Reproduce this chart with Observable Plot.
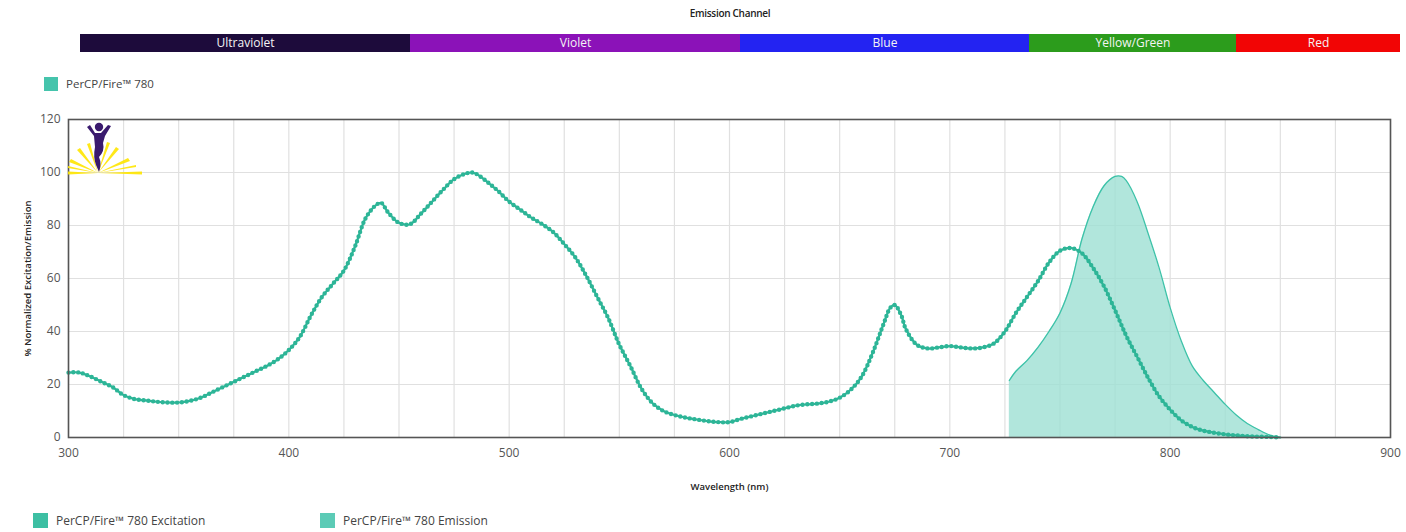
<!DOCTYPE html>
<html>
<head>
<meta charset="utf-8">
<script src="https://cdn.jsdelivr.net/npm/d3@7"></script>
<script src="https://cdn.jsdelivr.net/npm/@observablehq/plot@0.6"></script>
<style>
  body { margin: 0; background: #fff; font-family: "Open Sans", "Noto Sans", sans-serif; }
  #page { position: relative; width: 1406px; height: 532px; overflow: hidden; }
  .abs { position: absolute; }
  .title { left: 0; width: 1460px; top: 6px; text-align: center; font-size: 10px; font-weight: 600; color: #222; letter-spacing: -0.3px; }
  .leg { font-size: 11.5px; color: #444; display: flex; align-items: center; white-space: nowrap; }
  .sw { width: 14px; height: 14px; margin-right: 8px; }
</style>
</head>
<body>
<div id="page">
  <div class="abs title">Emission Channel</div>
  <div class="abs" id="bar" style="left:0; top:34px;"></div>
  <div class="abs leg" style="left:44px; top:76px;"><div class="sw" style="background:#45c4ac"></div>PerCP/Fire™ 780</div>
  <div class="abs" id="chart" style="left:0; top:100px;"></div>
  <svg class="abs" style="left:68px; top:121px;" width="80" height="58" viewBox="0 0 80 58">
    <g fill="#ffe600" opacity="0.9">
      <polygon points="30,52 0,50.5 0,53.5"/><polygon points="30,52 74,50.5 74,53.5"/>
      <polygon points="30,52 3,38 1,41"/><polygon points="30,52 60,37 62,40"/>
      <polygon points="30,52 12,27 9,29"/><polygon points="30,52 48,26 51,28"/>
      <polygon points="30,52 22,22 19,23"/><polygon points="30,52 39,21 42,22"/>
      <polygon points="30,52 0,45 0,47"/><polygon points="30,52 68,44 68,46"/>
    </g>
    <circle cx="31" cy="6" r="4.2" fill="#3a1a6e"/>
    <path d="M19 6 L26 15 L27 26 Q25 36 28 44 L31 51 Q34 43 31 36 Q37 30 35 22 L37 15 L43 5 L40 4 L33 12 L27 12 L22 4 Z" fill="#3a1a6e"/>
  </svg>
  <div class="abs leg" style="left:33px; top:512px; font-size:12px;"><div class="sw" style="background:#3dbfa3; width:15px; height:15px;"></div>PerCP/Fire™ 780 Excitation</div>
  <div class="abs leg" style="left:320px; top:512px; font-size:12px;"><div class="sw" style="background:#5ccbb6; width:15px; height:15px;"></div>PerCP/Fire™ 780 Emission</div>
</div>
<script>
// Emission channel bar
const channelNames = ["Ultraviolet", "Violet", "Blue", "Yellow/Green", "Red"];
const channelColors = ["#1d0b3b", "#8b12b8", "#2323f2", "#2c9c1c", "#f20505"];
const channelStart = [0, 330, 660, 949, 1156];
const channelEnd = [330, 660, 949, 1156, 1320];

// Excitation spectrum (wavelength nm, % normalized)
const exWavelength = [300,305,310,315,320,325,330,335,340,345,350,355,360,365,370,375,380,385,390,395,
  400,405,410,415,420,425,430,435,440,442,445,450,455,460,465,470,475,480,483,485,490,495,500,505,510,515,520,525,530,535,
  540,545,550,555,560,565,570,575,580,585,590,595,600,605,610,615,620,625,630,635,640,645,650,655,660,665,670,673,675,678,
  680,685,690,695,700,705,710,715,720,725,730,735,740,745,750,755,760,765,770,775,780,785,790,795,800,805,810,815,820,825,
  830,835,840,845,850];
const exValue = [24.5,24.5,23,21,19,16,14.5,14,13.5,13.2,13.2,13.8,15,17,19,21,23,25,27,29.5,
  33,38,46,53,58,63,72,83,88,88.5,85,81,80.5,84.5,89,93.5,97.5,99.5,100,99.5,96.5,93,89,86,83,80.5,77.5,73,68,61,
  53,45,35,27,18.5,13,10,8.5,7.5,6.8,6.2,5.8,5.8,7,8,9,10,11,12,12.5,12.8,13.5,15,18,23,32,43,49,50,46,
  41,35,33.6,34,34.5,34,33.6,34,35.5,40,47,53,59,66,70.5,71.5,69.5,64,57,48,38.5,30.5,22.5,15.5,10.5,6.5,4,2.6,1.8,1.2,
  0.8,0.5,0.3,0.2,0];

// Emission spectrum
const emWavelength = [727,730,735,740,745,750,755,760,765,770,775,778,780,785,790,795,800,805,810,815,820,825,830,835,840,845,850];
const emValue = [21.5,25,29,34,40,47,58,75,87,95,98.5,98.5,97,89,77,64,49,36.5,27,21.5,17,12.5,8.5,5.3,3,1,0];

const xTicks = [300,400,500,600,700,800,900];
const yTicks = [0,20,40,60,80,100,120];
const xGrid = d3.range(300, 901, 25);
const yGrid = d3.range(0, 121, 20);

const channels = channelNames.map((name, i) => ({name, color: channelColors[i], x1: channelStart[i], x2: channelEnd[i]}));
const ex = exWavelength.map((w, i) => ({w, v: exValue[i]}));
const em = emWavelength.map((w, i) => ({w, v: emValue[i]}));

const bar = Plot.plot({
  width: 1406, height: 18,
  marginLeft: 80, marginRight: 6, marginTop: 0, marginBottom: 0,
  x: {domain: [0, 1320], axis: null},
  y: {axis: null},
  style: {fontFamily: "Open Sans, sans-serif"},
  marks: [
    Plot.rectX(channels, {x1: "x1", x2: "x2", fill: "color"}),
    Plot.text(channels, {x: d => (d.x1 + d.x2) / 2, text: "name", fill: "#f4f4f4", fontSize: 12, fontWeight: 400, frameAnchor: "middle"})
  ]
});
document.getElementById("bar").appendChild(bar);

const chart = Plot.plot({
  width: 1406, height: 400,
  marginLeft: 68, marginRight: 16, marginTop: 19, marginBottom: 63,
  style: {fontFamily: "Open Sans, sans-serif", fontSize: "12px", color: "#555"},
  x: {domain: [300, 900], ticks: xTicks, tickSize: 0, tickPadding: 11, label: "Wavelength (nm)", labelAnchor: "center", labelArrow: "none", labelOffset: 52},
  y: {domain: [0, 120], ticks: yTicks, tickSize: 0, tickPadding: 8, label: "% Normalized Excitation/Emission", labelAnchor: "center", labelArrow: "none", labelOffset: 44},
  marks: [
    Plot.ruleX(xGrid, {stroke: "#e0e0e0", strokeWidth: 1.2}),
    Plot.ruleY(yGrid, {stroke: "#e0e0e0", strokeWidth: 1.2}),
    Plot.areaY(em, {x: "w", y: "v", fill: "#9ee0d3", fillOpacity: 0.8, curve: "catmull-rom"}),
    Plot.lineY(em, {x: "w", y: "v", stroke: "#3cc2a8", strokeWidth: 1.3, curve: "catmull-rom"}),
    Plot.lineY(ex, {x: "w", y: "v", stroke: "#2db597", strokeWidth: 2.2, curve: "catmull-rom"}),
    Plot.lineY(ex, {x: "w", y: "v", stroke: "#2db597", strokeWidth: 4.4, strokeDasharray: "0 4.8", strokeLinecap: "round", curve: "catmull-rom"}),
    Plot.frame({stroke: "#555", strokeWidth: 1.6})
  ]
});
document.getElementById("chart").appendChild(chart);
// style axis labels
chart.querySelectorAll("g[aria-label='x-axis label'] text, g[aria-label='y-axis label'] text").forEach(t => {
  t.setAttribute("font-size", "9.5"); t.setAttribute("font-weight", "600"); t.setAttribute("fill", "#222");
});
</script>
</body>
</html>
